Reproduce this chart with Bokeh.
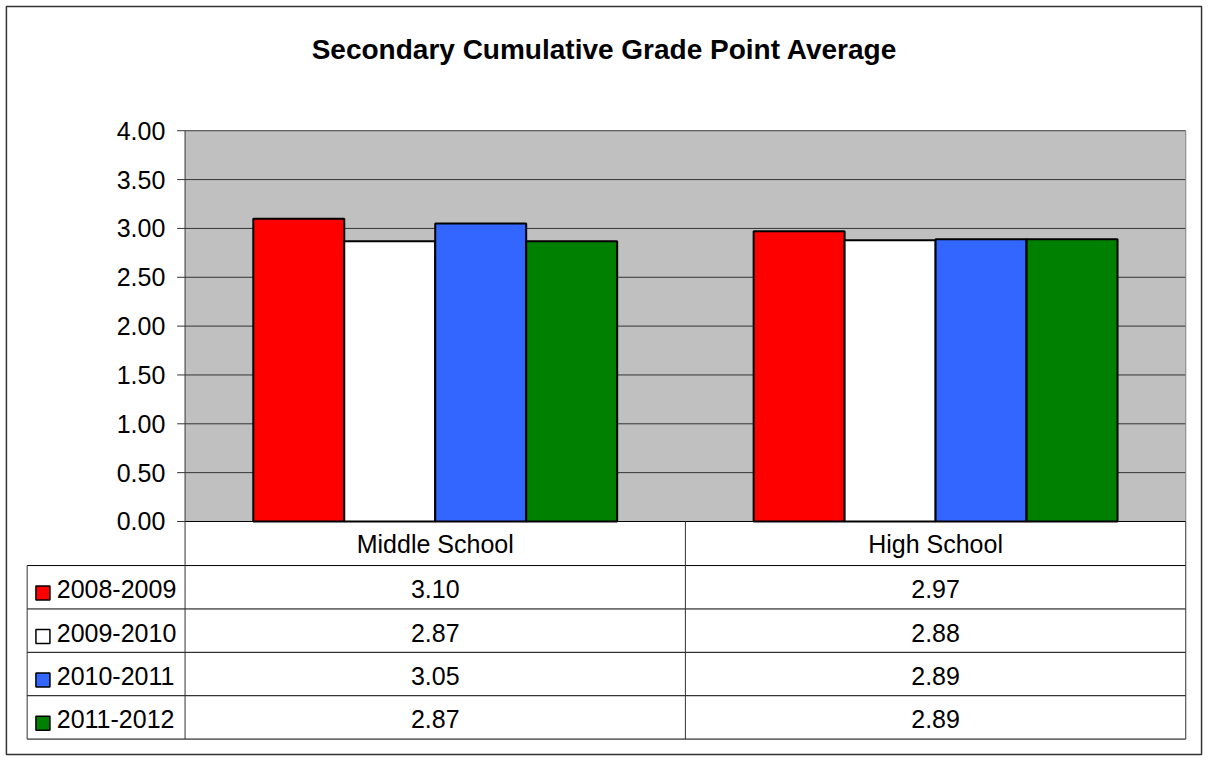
from bokeh.plotting import figure
from bokeh.models import Range1d, ColumnDataSource
from bokeh.core.properties import value
from bokeh.embed import file_html
from bokeh.resources import INLINE

# ---------------- data ----------------
title_text = "Secondary Cumulative Grade Point Average"
categories = ["Middle School", "High School"]
years = ["2008-2009", "2009-2010", "2010-2011", "2011-2012"]
gpa_2008_2009 = [3.10, 2.97]
gpa_2009_2010 = [2.87, 2.88]
gpa_2010_2011 = [3.05, 2.89]
gpa_2011_2012 = [2.87, 2.89]
series_values = [gpa_2008_2009, gpa_2009_2010, gpa_2010_2011, gpa_2011_2012]
y_ticks = [0.0, 0.5, 1.0, 1.5, 2.0, 2.5, 3.0, 3.5, 4.0]
y_tick_labels = ["%.2f" % t for t in y_ticks]

# ---------------- style / layout ----------------
colors = ["#FF0000", "#FFFFFF", "#3366FF", "#008000"]
FONT = value("Liberation Sans")
W, H = 1205, 757
REF_W, REF_H = 1221, 773       # design canvas (mapped onto the figure)
ORIGIN_X, ORIGIN_Y = 187, 532  # design px of (x=0, y=0)
CAT_PX = 507                   # design px per category
UNIT_PX = 99.75                # design px per GPA unit
CAT_ROW_PX = 45
ROW_PX = 44.3
LEGEND_LEFT_PX = 27
SX = W / REF_W


def ux(px):
    return (px - ORIGIN_X) / CAT_PX


def vy(py):
    return (ORIGIN_Y - py) / UNIT_PX


p = figure(width=W, height=H, output_backend="svg", toolbar_location=None,
           x_range=Range1d(ux(0), ux(REF_W)),
           y_range=Range1d(vy(REF_H), vy(0)),
           x_axis_location=None, y_axis_location=None,
           min_border=0, title=None)
p.outline_line_color = None
p.xgrid.visible = False
p.ygrid.visible = False
p.background_fill_color = "white"
p.border_fill_color = "white"

n_cat = len(categories)
n_ser = len(years)
ymax = max(y_ticks)

# plot area background
p.quad(left=[0], right=[n_cat], bottom=[0], top=[ymax],
       fill_color="#C0C0C0", line_color=None)

# gridlines
grid_y = [t for t in y_ticks if t > 0]
p.segment(x0=[0] * len(grid_y), x1=[n_cat] * len(grid_y), y0=grid_y, y1=grid_y,
          line_color="#333333", line_width=1)
# right edge of plot area
p.segment(x0=[n_cat], x1=[n_cat], y0=[0], y1=[ymax], line_color="#808080", line_width=1)

# bars
bw = 1 / (n_ser + 1.5)
for j, (yr, vals, col) in enumerate(zip(years, series_values, colors)):
    xs = [i + 0.5 + (j - (n_ser - 1) / 2) * bw for i in range(n_cat)]
    src = ColumnDataSource(dict(x=xs, top=vals))
    p.vbar(x="x", top="top", bottom=0, width=bw, source=src,
           fill_color=col, line_color="black", line_width=2)

# y axis ticks and labels
tick_left = ux(ORIGIN_X - 8)
p.segment(x0=[tick_left] * len(y_ticks), x1=[0] * len(y_ticks), y0=y_ticks, y1=y_ticks,
          line_color="#333333", line_width=1)
p.text(x=[ux(ORIGIN_X - 20)] * len(y_ticks), y=y_ticks, text=y_tick_labels,
       text_font=FONT, text_font_size="25px", text_align="right",
       text_baseline="middle", text_color="black")

# ---------------- data table ----------------
row_edges_px = [ORIGIN_Y, ORIGIN_Y + CAT_ROW_PX]
for k in range(n_ser):
    row_edges_px.append(ORIGIN_Y + CAT_ROW_PX + (k + 1) * ROW_PX)
row_edges = [vy(r) for r in row_edges_px]
table_bottom = row_edges[-1]
legend_left = ux(LEGEND_LEFT_PX)

# horizontal lines
hx0 = [0] + [legend_left] * (len(row_edges) - 1)
p.segment(x0=hx0, x1=[n_cat] * len(row_edges), y0=row_edges, y1=row_edges,
          line_color="black", line_width=1)
# vertical lines (axis line + category dividers)
vxs = [i for i in range(n_cat + 1)]
p.segment(x0=vxs, x1=vxs, y0=[ymax] + [0] * n_cat, y1=[table_bottom] * len(vxs),
          line_color="#333333", line_width=1)
# legend column left edge
p.segment(x0=[legend_left], x1=[legend_left], y0=[row_edges[1]], y1=[table_bottom],
          line_color="#333333", line_width=1)

# category labels
cat_y = (row_edges[0] + row_edges[1]) / 2
p.text(x=[i + 0.5 for i in range(n_cat)], y=[cat_y] * n_cat, text=categories,
       text_font=FONT, text_font_size="25px", text_align="center",
       text_baseline="middle", text_color="black")

# rows
row_centers = [(row_edges[k + 1] + row_edges[k + 2]) / 2 for k in range(n_ser)]
text_shift = 2 / UNIT_PX
sw_shift = 6 / UNIT_PX
p.rect(x=[ux(43)] * n_ser, y=[c - sw_shift for c in row_centers], width=14, height=14,
       width_units="screen", height_units="screen",
       fill_color=colors, line_color="black", line_width=1.5)
p.text(x=[ux(57)] * n_ser, y=[c - text_shift for c in row_centers], text=years,
       text_font=FONT, text_font_size="25px", text_align="left",
       text_baseline="middle", text_color="black")
for k, vals in enumerate(series_values):
    p.text(x=[i + 0.5 for i in range(n_cat)], y=[row_centers[k] - text_shift] * n_cat,
           text=["%.2f" % v for v in vals],
           text_font=FONT, text_font_size="25px", text_align="center",
           text_baseline="middle", text_color="black")

# title
p.text(x=[ux(612)], y=[vy(50)], text=[title_text], text_font=FONT,
       text_font_size="28px", text_font_style="bold", text_align="center",
       text_baseline="middle", text_color="black")

# outer border
p.quad(left=[ux(6)], right=[ux(1217)], bottom=[vy(770)], top=[vy(6)],
       fill_color=None, line_color="#333333", line_width=1.5)

open("out.html", "w").write(file_html(p, INLINE))
